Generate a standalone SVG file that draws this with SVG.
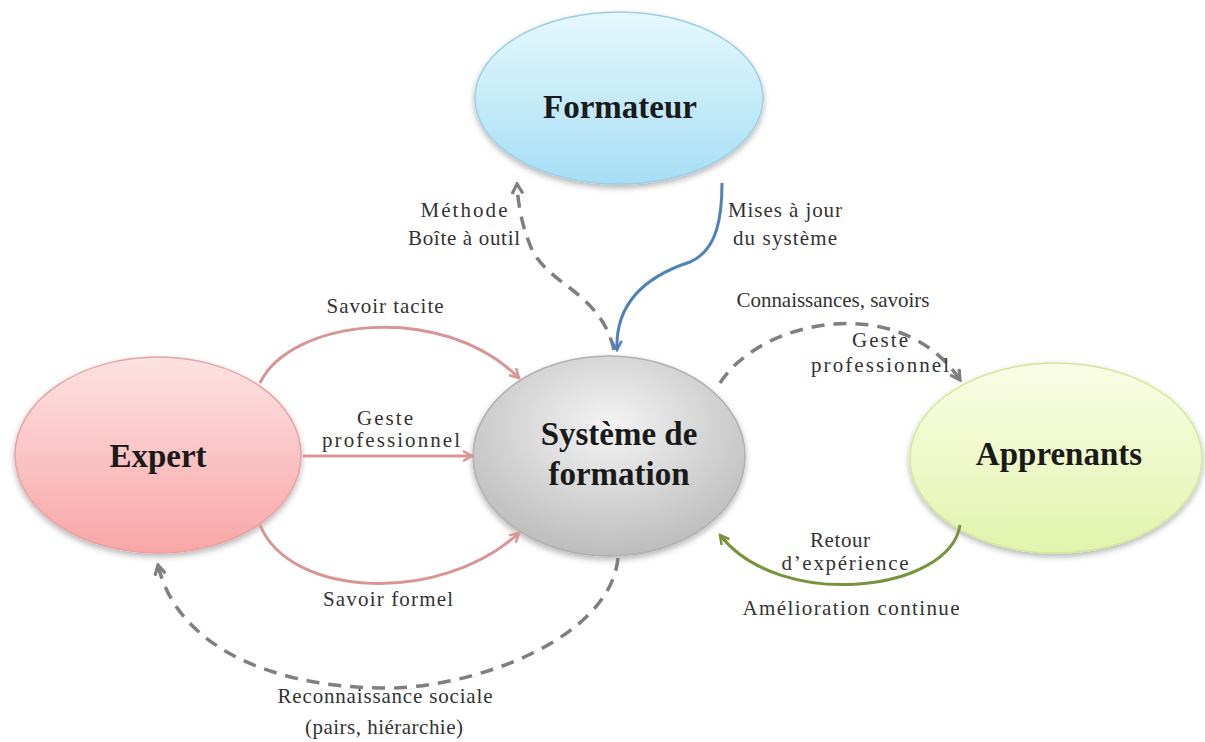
<svg xmlns="http://www.w3.org/2000/svg" width="1205" height="742" viewBox="0 0 1205 742">
<style>
.node-label{font-family:"Liberation Serif","Times New Roman",serif;font-weight:bold;font-size:33px;fill:#1a1a1a;text-anchor:middle}
.lbl{font-family:"Liberation Serif","Times New Roman",serif;font-size:21px;fill:#333;text-anchor:middle}
.c{fill:none;stroke-width:3}
.pink{stroke:#d99594}
.gray{stroke:#7f7f7f;stroke-width:3.5;stroke-dasharray:13 9}
.blue{stroke:#4f81bd}
.green{stroke:#77933c}
</style>
<defs>
<linearGradient id="gBlue" x1="0" y1="0" x2="0" y2="1"><stop offset="0" stop-color="#e6f8fe"/><stop offset="1" stop-color="#a6def4"/></linearGradient>
<linearGradient id="gPink" x1="0" y1="0" x2="0" y2="1"><stop offset="0" stop-color="#fde2e2"/><stop offset="1" stop-color="#f8a6a6"/></linearGradient>
<radialGradient id="gGray" cx="0.5" cy="0.35" r="0.7"><stop offset="0" stop-color="#f4f4f4"/><stop offset="1" stop-color="#b8b8b8"/></radialGradient>
<linearGradient id="gGreen" x1="0" y1="0" x2="0" y2="1"><stop offset="0" stop-color="#fafde6"/><stop offset="1" stop-color="#e2f4ad"/></linearGradient>
<filter id="sh" x="-10%" y="-10%" width="120%" height="125%"><feGaussianBlur in="SourceAlpha" stdDeviation="3"/><feOffset dy="3"/><feComponentTransfer><feFuncA type="linear" slope="0.3"/></feComponentTransfer><feMerge><feMergeNode/><feMergeNode in="SourceGraphic"/></feMerge></filter>
<marker id="aPink" viewBox="0 0 12 12" refX="10" refY="6" markerWidth="12" markerHeight="12" markerUnits="userSpaceOnUse" orient="auto"><path d="M1,1 L10,6 L1,11" fill="none" stroke="#d99594" stroke-width="2.5"/></marker>
<marker id="aGray" viewBox="0 0 12 12" refX="10" refY="6" markerWidth="13" markerHeight="13" markerUnits="userSpaceOnUse" orient="auto"><path d="M1,1 L10,6 L1,11" fill="none" stroke="#7f7f7f" stroke-width="3"/></marker>
<marker id="aBlue" viewBox="0 0 12 12" refX="10" refY="6" markerWidth="12" markerHeight="12" markerUnits="userSpaceOnUse" orient="auto"><path d="M1,1 L10,6 L1,11" fill="none" stroke="#4f81bd" stroke-width="2.5"/></marker>
<marker id="aGreen" viewBox="0 0 12 12" refX="10" refY="6" markerWidth="12" markerHeight="12" markerUnits="userSpaceOnUse" orient="auto"><path d="M1,1 L10,6 L1,11" fill="none" stroke="#77933c" stroke-width="2.5"/></marker>
</defs>
<rect width="1205" height="742" fill="#ffffff"/>

<g id="formateur">
<ellipse cx="619" cy="98" rx="144" ry="86" fill="url(#gBlue)" stroke="#9ccfe3" stroke-width="1.5" filter="url(#sh)"/>
<text class="node-label" x="620" y="118">Formateur</text>
</g>
<g id="expert">
<ellipse cx="158" cy="455" rx="143" ry="98" fill="url(#gPink)" stroke="#eaa0a0" stroke-width="1.5" filter="url(#sh)"/>
<text class="node-label" x="158" y="467">Expert</text>
</g>
<g id="systeme">
<ellipse cx="609" cy="456" rx="136" ry="100" fill="url(#gGray)" stroke="#b0b0b0" stroke-width="1.5" filter="url(#sh)"/>
<text class="node-label" x="619" y="445">Système de</text>
<text class="node-label" x="619" y="485">formation</text>
</g>
<g id="apprenants">
<ellipse cx="1056" cy="458" rx="146" ry="95" fill="url(#gGreen)" stroke="#d4e89a" stroke-width="1.5" filter="url(#sh)"/>
<text class="node-label" x="1059" y="465">Apprenants</text>
</g>

<g id="connectors">
<path class="c pink" d="M260 383 C290 320,440 300,519 378" marker-end="url(#aPink)"/>
<path class="c pink" d="M303 456 L472 456" marker-end="url(#aPink)"/>
<path class="c pink" d="M260 525 C290 598,440 605,519 533" marker-end="url(#aPink)"/>
<path class="c gray" d="M618 558 C610 640,470 690,380 688 C260 686,175 640,158 565" marker-end="url(#aGray)"/>
<path class="c gray" d="M614 350 C600 290,545 285,530 245 C522 225,518 205,517 184" marker-end="url(#aGray)"/>
<path class="c blue" d="M722 183 C722 215,718 250,690 262 C650 275,615 300,617 350" marker-end="url(#aBlue)"/>
<path class="c gray" d="M720 383 C760 320,900 290,960 380" marker-end="url(#aGray)"/>
<path class="c green" d="M960 525 C950 592,780 612,720 535" marker-end="url(#aGreen)"/>
</g>

<g id="labels">
<text class="lbl" x="385" y="313" textLength="117" lengthAdjust="spacing">Savoir tacite</text>
<text class="lbl" x="385" y="425" textLength="56" lengthAdjust="spacing">Geste</text>
<text class="lbl" x="391" y="447" textLength="138" lengthAdjust="spacing">professionnel</text>
<text class="lbl" x="388" y="606" textLength="130" lengthAdjust="spacing">Savoir formel</text>
<text class="lbl" x="385" y="703" textLength="215" lengthAdjust="spacing">Reconnaissance sociale</text>
<text class="lbl" x="384" y="734" textLength="158" lengthAdjust="spacing">(pairs, hiérarchie)</text>
<text class="lbl" x="464" y="217" textLength="87" lengthAdjust="spacing">Méthode</text>
<text class="lbl" x="464" y="245" textLength="112" lengthAdjust="spacing">Boîte à outil</text>
<text class="lbl" x="785" y="217" textLength="114" lengthAdjust="spacing">Mises à jour</text>
<text class="lbl" x="785" y="245" textLength="104" lengthAdjust="spacing">du système</text>
<text class="lbl" x="833" y="307" textLength="193" lengthAdjust="spacing">Connaissances, savoirs</text>
<text class="lbl" x="880" y="347" textLength="56" lengthAdjust="spacing">Geste</text>
<text class="lbl" x="880" y="372" textLength="138" lengthAdjust="spacing">professionnel</text>
<text class="lbl" x="840" y="547" textLength="60" lengthAdjust="spacing">Retour</text>
<text class="lbl" x="845" y="570" textLength="127" lengthAdjust="spacing">d’expérience</text>
<text class="lbl" x="851" y="615" textLength="217" lengthAdjust="spacing">Amélioration continue</text>
</g>
</svg>
